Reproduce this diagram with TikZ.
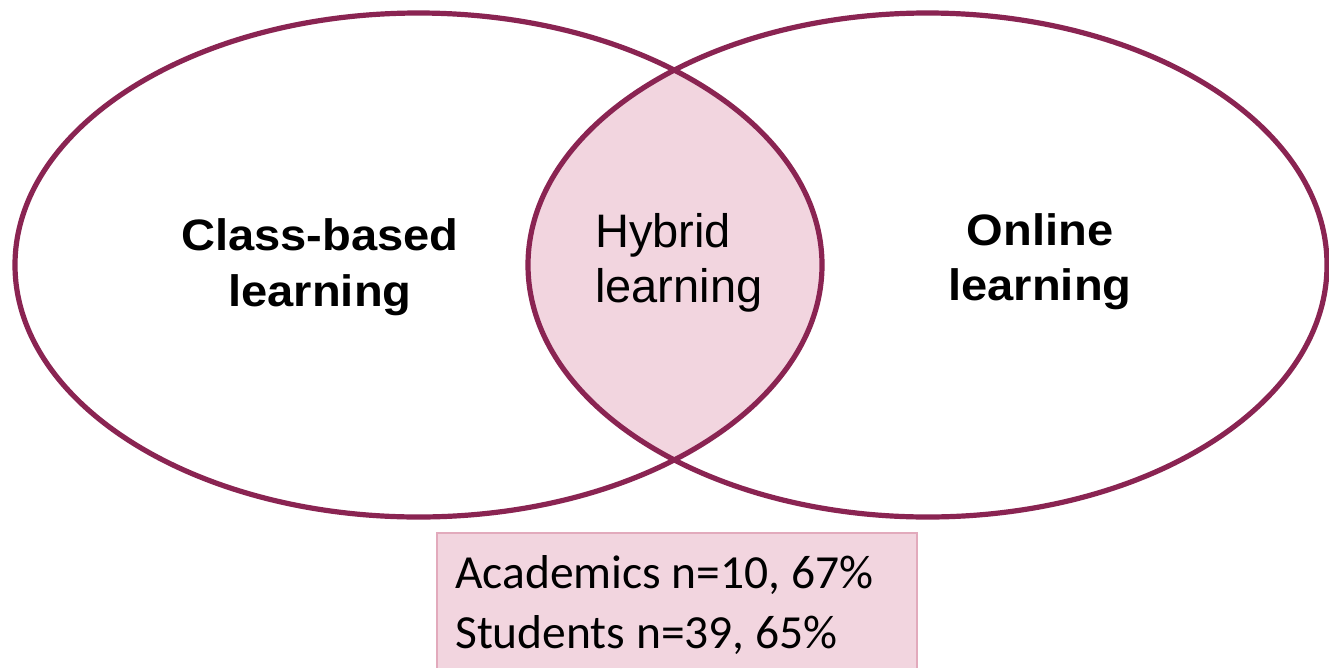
\documentclass[tikz,border=0pt]{standalone}
\usepackage{fontspec}
\setmainfont{Liberation Sans}
\newfontfamily\carl{Carlito}
\definecolor{maroon}{RGB}{138,36,82}
\definecolor{lightpink}{RGB}{242,213,223}
\definecolor{boxedge}{RGB}{226,170,188}
\begin{document}
\begin{tikzpicture}[x=1pt,y=-1pt,
  ring/.style={draw=maroon,line width=5.2pt},
  boldlabel/.style={font=\fontsize{44}{52}\selectfont\bfseries,xscale=1.07,inner sep=0pt},
  plainlabel/.style={font=\fontsize{47}{55}\selectfont,inner sep=0pt},
  stattext/.style={font=\carl\fontsize{47.5}{60}\selectfont,inner sep=0pt}]
\useasboundingbox (0,0) rectangle (1329,667);
\fill[white] (0,0) rectangle (1329,667);
% intersection fill
\begin{scope}
  \clip (418.5pt,-265pt) ellipse [x radius=403.5pt, y radius=252pt];
  \fill[lightpink] (927.5pt,-265pt) ellipse [x radius=399.5pt, y radius=252pt];
\end{scope}
\draw[ring] (418.5pt,-265pt) ellipse [x radius=403.5pt, y radius=252pt];
\draw[ring] (927.5pt,-265pt) ellipse [x radius=399.5pt, y radius=252pt];
% labels
\node[boldlabel,anchor=base] (cb1) at (320,250) {Class-based};
\node[boldlabel,anchor=base] (cb2) at (320,306) {learning};
\node[plainlabel,anchor=base west] (hy1) at (595,247) {Hybrid};
\node[plainlabel,anchor=base west] (hy2) at (595,302) {learning};
\node[boldlabel,anchor=base] (on1) at (1040,245) {Online};
\node[boldlabel,anchor=base] (on2) at (1040,300) {learning};
% stats box
\node[draw=boxedge,fill=lightpink,line width=1.5pt,minimum width=480pt,minimum height=140pt,anchor=north west,inner sep=0pt] (stats) at (436,532) {};
\node[stattext,anchor=base west] (st1) at (455,588) {Academics n=10, 67\%};
\node[stattext,anchor=base west] (st2) at (455,648) {Students n=39, 65\%};
\end{tikzpicture}
\end{document}
